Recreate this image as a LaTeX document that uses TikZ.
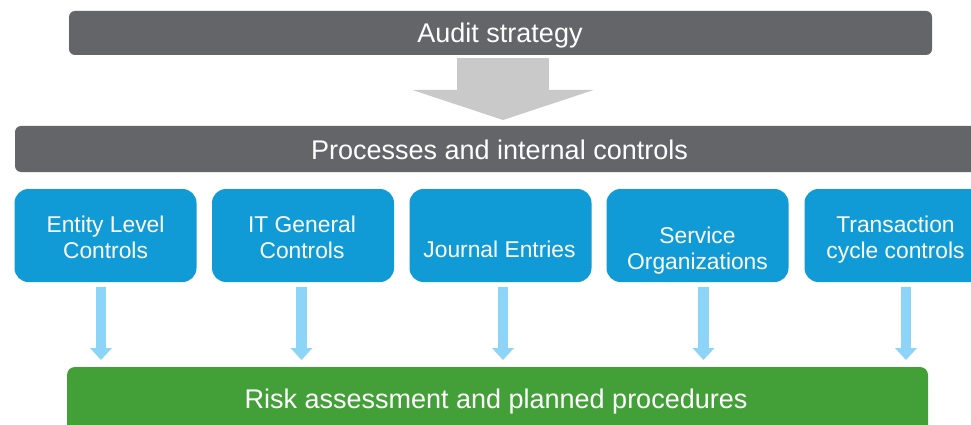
\documentclass[tikz,border=0pt]{standalone}
\usepackage{fontspec}
\setmainfont{Liberation Sans}
\usetikzlibrary{arrows.meta}
\definecolor{bargray}{HTML}{636569}
\definecolor{boxblue}{HTML}{109BD7}
\definecolor{bargreen}{HTML}{43A038}
\definecolor{arrowblue}{HTML}{8DD5F8}
\definecolor{arrowgray}{HTML}{C9C9C9}
\begin{document}
\begin{tikzpicture}[x=1pt,y=-1pt,
  shapebase/.style={rectangle, inner sep=0pt, outer sep=0pt, draw=none},
  graybar/.style={shapebase, fill=bargray, rounded corners=6pt},
  greenbar/.style={shapebase, fill=bargreen, rounded corners=8pt},
  bluebox/.style={shapebase, fill=boxblue, rounded corners=14pt, minimum width=182pt, minimum height=93pt},
  bartext/.style={anchor=base, text=white, font=\fontsize{27}{32}\selectfont, inner sep=0pt},
  boxtext/.style={anchor=base, text=white, font=\fontsize{22.8}{26}\selectfont, inner sep=0pt},
  bigarrow/.style={draw=arrowgray, line width=92pt, shorten <=3pt, shorten >=6pt,
     -{Triangle[width=181pt, length=30pt, line width=0pt]}},
  smallarrow/.style={draw=arrowblue, line width=10.5pt, shorten <=5pt, shorten >=7pt,
     -{Triangle[width=22pt, length=12pt, line width=0pt]}}
]
\useasboundingbox (0,0) rectangle (971,425);
\clip (0,0) rectangle (971,425);
\fill[white] (0,0) rectangle (971,425);

% bars
\node[graybar, minimum width=863pt, minimum height=44pt] (top) at (500.5,33) {};
\node[bartext] (toptext) at (500,43) {Audit strategy};
\node[graybar, minimum width=970pt, minimum height=46pt] (proc) at (500,149) {};
\node[bartext] (proctext) at (499.5,159) {Processes and internal controls};
\node[greenbar, minimum width=861pt, minimum height=74pt] (green) at (497.5,404) {};
\node[bartext] (greentext) at (496,408) {Risk assessment and planned procedures};

% boxes
\node[bluebox] (b1) at (105.5,235.5) {};
\node[bluebox] (b2) at (303,235.5) {};
\node[bluebox] (b3) at (500.5,235.5) {};
\node[bluebox] (b4) at (697.5,235.5) {};
\node[bluebox] (b5) at (895.5,235.5) {};

\node[boxtext] (t1a) at (105.5,232) {Entity Level};
\node[boxtext] (t1b) at (105.5,258) {Controls};
\node[boxtext] (t2a) at (302,232) {IT General};
\node[boxtext] (t2b) at (302,258) {Controls};
\node[boxtext] (t3a) at (499.5,257) {Journal Entries};
\node[boxtext] (t4a) at (697.5,243) {Service};
\node[boxtext] (t4b) at (697.5,269) {Organizations};
\node[boxtext] (t5a) at (895.5,232) {Transaction};
\node[boxtext] (t5b) at (895.5,258) {cycle controls};

% arrows
\draw[bigarrow] ([xshift=2.5pt]top.south) -- ([xshift=2.5pt]top.south |- proc.north);
\draw[smallarrow] ([xshift=-4.5pt]b1.south) -- ([xshift=-4.5pt]b1.south |- green.north);
\draw[smallarrow] ([xshift=-1.5pt]b2.south) -- ([xshift=-1.5pt]b2.south |- green.north);
\draw[smallarrow] ([xshift=2.5pt]b3.south) -- ([xshift=2.5pt]b3.south |- green.north);
\draw[smallarrow] ([xshift=6pt]b4.south) -- ([xshift=6pt]b4.south |- green.north);
\draw[smallarrow] ([xshift=10.5pt]b5.south) -- ([xshift=10.5pt]b5.south |- green.north);
\end{tikzpicture}
\end{document}
